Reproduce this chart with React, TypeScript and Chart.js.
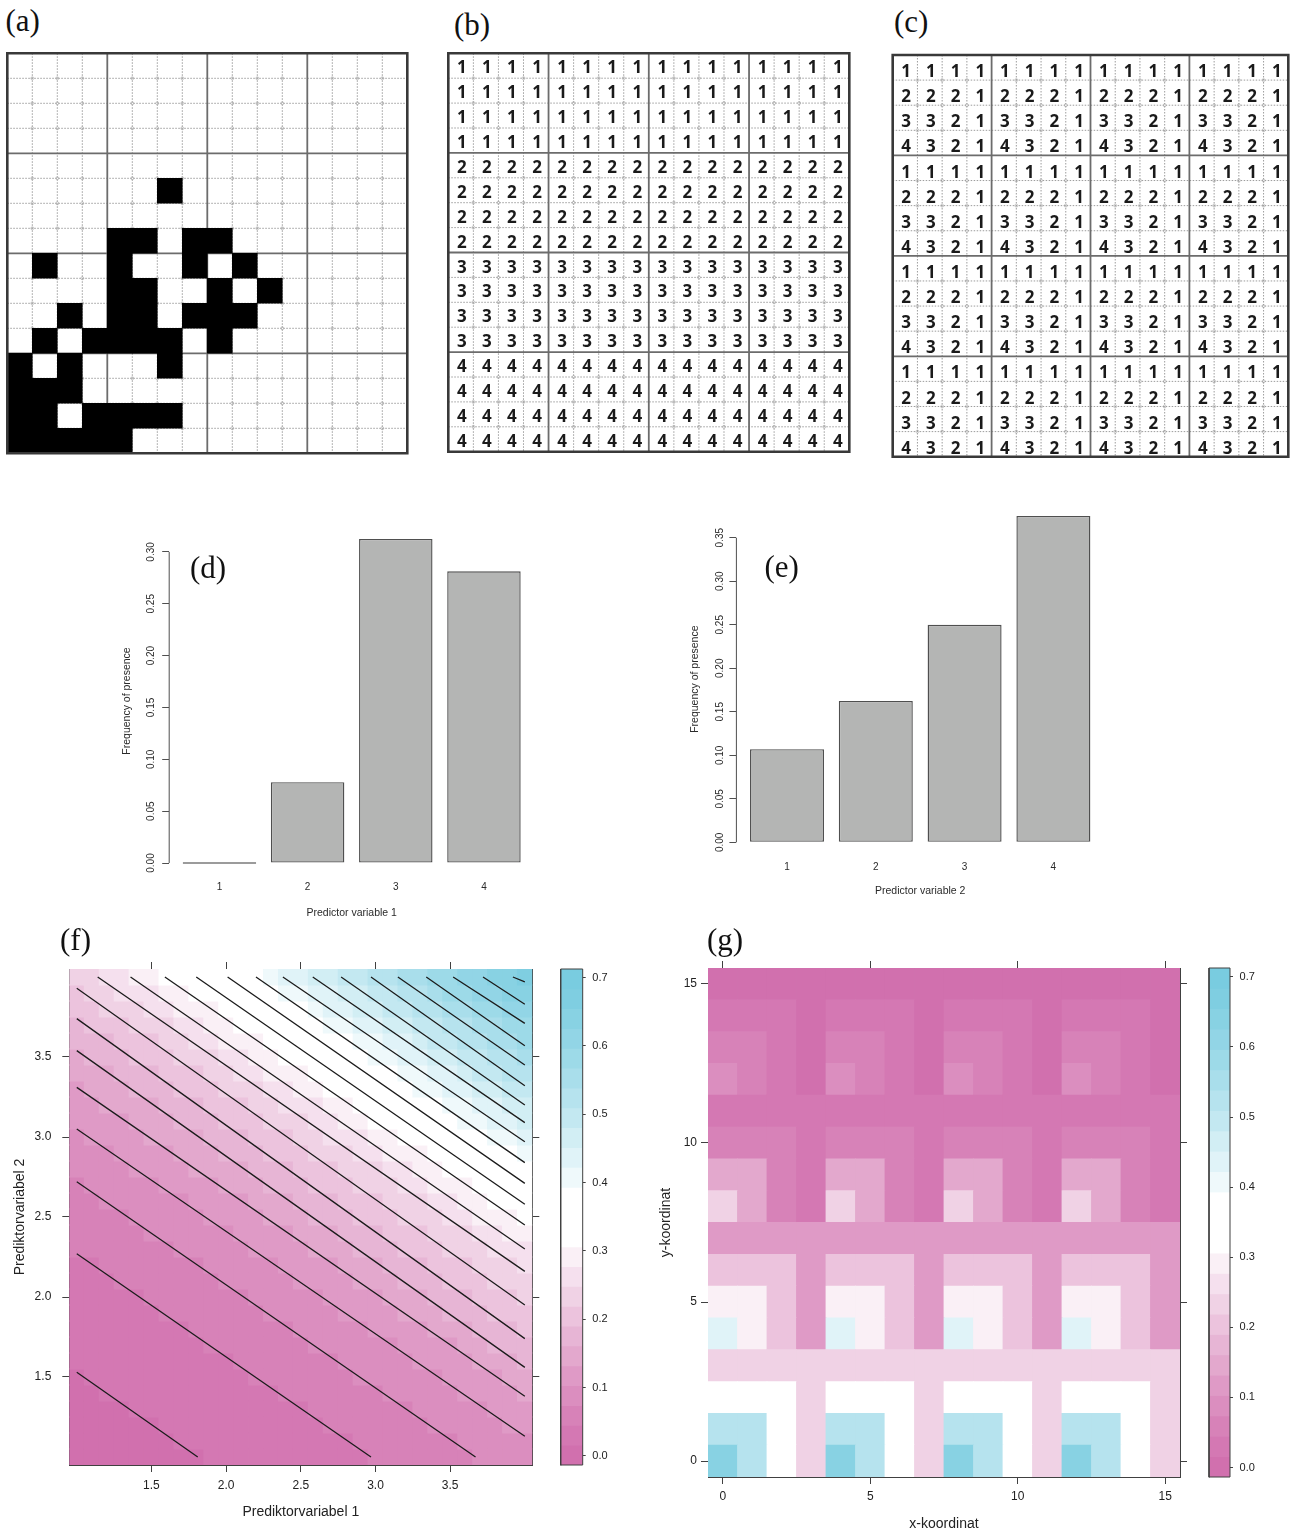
import React, { useEffect, useRef } from "react";
import { Chart, registerables } from "chart.js";

Chart.register(...registerables);

const SANS = "'Liberation Sans', Arial, sans-serif";
const SERIF = "'Liberation Serif', 'Times New Roman', serif";
Chart.defaults.font.family = SANS;

// ---------------- DATA ----------------
// (a) observed presence (1 = black cell), rows top -> bottom
const presenceGrid = [
  "0000000000000000",
  "0000000000000000",
  "0000000000000000",
  "0000000000000000",
  "0000000000000000",
  "0000001000000000",
  "0000000000000000",
  "0000110110000000",
  "0100100101000000",
  "0000110010100000",
  "0010110111000000",
  "0101111010000000",
  "1010001000000000",
  "1110000000000000",
  "1101111000000000",
  "1111100000000000",
];

// (b) predictor variable 1
const predictor1Grid = [
  "1111111111111111", "1111111111111111", "1111111111111111", "1111111111111111",
  "2222222222222222", "2222222222222222", "2222222222222222", "2222222222222222",
  "3333333333333333", "3333333333333333", "3333333333333333", "3333333333333333",
  "4444444444444444", "4444444444444444", "4444444444444444", "4444444444444444",
];

// (c) predictor variable 2
const predictor2Grid = [
  "1111111111111111", "2221222122212221", "3321332133213321", "4321432143214321",
  "1111111111111111", "2221222122212221", "3321332133213321", "4321432143214321",
  "1111111111111111", "2221222122212221", "3321332133213321", "4321432143214321",
  "1111111111111111", "2221222122212221", "3321332133213321", "4321432143214321",
];

// (d), (e) frequency of presence
const barCategories = ["1", "2", "3", "4"];
const freqByPredictor1 = [0, 0.078, 0.3125, 0.2813];
const freqByPredictor2 = [0.107, 0.1625, 0.25, 0.375];
const yTicksD = [0, 0.05, 0.1, 0.15, 0.2, 0.25, 0.3];
const yTicksE = [0, 0.05, 0.1, 0.15, 0.2, 0.25, 0.3, 0.35];

// (f) fitted surface: grid levels and contour lines [x1 start, x2 start, x1 end, x2 end]
const surfaceLevels = [1.0, 1.1, 1.2, 1.3, 1.4, 1.5, 1.6, 1.7, 1.8, 1.9, 2.0, 2.1, 2.2, 2.3, 2.4, 2.5,
  2.6, 2.7, 2.8, 2.9, 3.0, 3.1, 3.2, 3.3, 3.4, 3.5, 3.6, 3.7, 3.8, 3.9, 4.0];
const surfaceTicks = [1.5, 2.0, 2.5, 3.0, 3.5];
const contourLines = [
  [1.81, 1.0, 1.0, 1.53],
  [2.97, 1.0, 1.0, 2.27],
  [3.67, 1.0, 1.0, 2.72],
  [4.0, 1.13, 1.0, 3.05],
  [4.0, 1.38, 1.0, 3.31],
  [4.0, 1.56, 1.0, 3.54],
  [4.0, 1.74, 1.0, 3.74],
  [4.0, 1.95, 1.0, 3.93],
  [4.0, 2.16, 1.14, 4.0],
  [4.0, 2.3, 1.36, 4.0],
  [4.0, 2.45, 1.59, 4.0],
  [4.0, 2.58, 1.8, 4.0],
  [4.0, 2.71, 2.01, 4.0],
  [4.0, 2.84, 2.2, 4.0],
  [4.0, 2.97, 2.38, 4.0],
  [4.0, 3.09, 2.58, 4.0],
  [4.0, 3.2, 2.77, 4.0],
  [4.0, 3.32, 2.97, 4.0],
  [4.0, 3.45, 3.15, 4.0],
  [4.0, 3.57, 3.34, 4.0],
  [4.0, 3.71, 3.52, 4.0],
  [4.0, 3.83, 3.72, 4.0],
  [4.0, 3.97, 3.92, 4.0],
];

// colour key
const keyRange = [-0.0135, 0.7127];
const keyBandCount = 25;
const keyTicks = [0, 0.1, 0.2, 0.3, 0.4, 0.5, 0.6, 0.7];

// (g) predicted presence by (predictor 1 level, predictor 2 level)
const coordTicks = [0, 5, 10, 15];
const presenceModel = [
  [0.0, 0.03, 0.06, 0.095],
  [0.035, 0.065, 0.14, 0.235],
  [0.12, 0.2, 0.3, 0.44],
  [0.24, 0.35, 0.525, 0.65],
];

// ---------------- helpers ----------------
const PINK = [209, 112, 174];
const CYAN = [121, 204, 224];
function bandColour(i: number) {
  let c: number[];
  if (i <= 11) {
    const x = (11 - i) / 11;
    const f = 1 - Math.pow(1 - x, 1.2);
    c = PINK.map((p) => 255 + (p - 255) * f);
  } else if (i <= 13) {
    c = [255, 255, 255];
  } else {
    const x = (i - 13) / 11;
    const f = 1 - Math.pow(1 - x, 1.3);
    c = CYAN.map((p) => 255 + (p - 255) * f);
  }
  return `rgb(${c.map((v) => Math.round(v)).join(",")})`;
}
const bandWidth = (keyRange[1] - keyRange[0]) / keyBandCount;
function bandOfValue(v: number) {
  return Math.max(0, Math.min(keyBandCount - 1, Math.floor((v - keyRange[0]) / bandWidth)));
}
function bandFromContours(x: number, y: number) {
  let n = 0;
  for (const [ax, ay, bx, by] of contourLines) {
    let nx = by - ay;
    let ny = -(bx - ax);
    if (nx + ny < 0) { nx = -nx; ny = -ny; }
    if (nx * (x - ax) + ny * (y - ay) > 0) n++;
  }
  return n;
}

type Rect = [number, number, number, number];

function base(extra: any) {
  return {
    animation: false,
    responsive: false,
    maintainAspectRatio: false,
    devicePixelRatio: 1,
    events: [],
    plugins: { legend: { display: false }, tooltip: { enabled: false } },
    ...extra,
  };
}

function ChartBox({ rect, build }: { rect: Rect; build: () => any }) {
  const ref = useRef<HTMLCanvasElement | null>(null);
  useEffect(() => {
    if (!ref.current) return;
    const chart = new Chart(ref.current, build());
    return () => chart.destroy();
  }, []);
  const [x, y, w, h] = rect;
  return (
    <canvas ref={ref} width={w} height={h}
      style={{ position: "absolute", left: x, top: y, width: w, height: h }} />
  );
}

// ---------- grid panels (a)(b)(c) ----------
function gridChart(rect: Rect, area: Rect, black: string[] | null, digits: string[] | null, digitDy: number) {
  const [cx, cy, cw, ch] = rect;
  const [L, T, R, B] = area;
  const N = 16;
  const dotted: any[] = [];
  const solid: any[] = [];
  const rings: any[] = [];
  for (let i = 1; i < N; i++) {
    const target = i % 4 === 0 ? solid : dotted;
    target.push({ x: i, y: 0 }, { x: i, y: N }, { x: i, y: null });
    target.push({ x: 0, y: i }, { x: N, y: i }, { x: N, y: null });
    if (i % 4 !== 0) for (let j = 1; j < N; j++) if (j % 4 !== 0) rings.push({ x: i, y: j });
  }
  const cells: any[] = [];
  (black || []).forEach((row, r) => {
    for (let c = 0; c < row.length; c++) if (row[c] === "1") cells.push({ x: c + 0.5, y: [r, r + 1] });
  });
  const textPlugin = {
    id: "cellText",
    afterDatasetsDraw(chart: any) {
      if (!digits) return;
      const ctx = chart.ctx;
      const xs = chart.scales.x;
      const ys = chart.scales.y;
      ctx.save();
      ctx.font = "700 17px 'Open Sans', sans-serif";
      ctx.fillStyle = "#1a1a1a";
      ctx.textAlign = "center";
      ctx.textBaseline = "alphabetic";
      digits.forEach((row, r) => {
        for (let c = 0; c < row.length; c++) {
          ctx.fillText(row[c], xs.getPixelForValue(c + 0.5) + 1, ys.getPixelForValue(r + 0.5) + 6.1 + digitDy);
        }
      });
      ctx.restore();
    },
  };
  return {
    type: "bar",
    data: {
      datasets: [
        { type: "line", data: [{ x: 0, y: 0 }, { x: N, y: 0 }, { x: N, y: N }, { x: 0, y: N }, { x: 0, y: 0 }],
          borderColor: "#393939", borderWidth: 2.6, pointRadius: 0, clip: false, order: 0,
          borderJoinStyle: "miter", borderCapStyle: "square" },
        { type: "bar", data: cells, backgroundColor: "#000", borderWidth: 0, barPercentage: 1,
          categoryPercentage: 1, grouped: false, inflateAmount: 0.3, order: 1 },
        { type: "line", data: solid, borderColor: "#6c6c6c", borderWidth: 1.8, pointRadius: 0, spanGaps: false, order: 2 },
        { type: "line", data: dotted, borderColor: "#9c9c9c", borderWidth: 1, borderDash: [1.5, 1.5],
          pointRadius: 0, spanGaps: false, order: 3 },
        { type: "scatter", data: rings, pointRadius: 1.5, pointBorderWidth: 0.7, pointBorderColor: "#b4b4b4",
          pointBackgroundColor: "rgba(255,255,255,0)", order: 3 },
      ],
    },
    options: base({
      layout: { padding: { left: L - cx, top: T - cy, right: cx + cw - R, bottom: cy + ch - B } },
      scales: {
        x: { type: "linear", min: 0, max: N, display: false, offset: false, ticks: { stepSize: 1 } },
        y: { type: "linear", min: 0, max: N, reverse: true, display: false, ticks: { stepSize: 1 } },
      },
    }),
    plugins: [textPlugin],
  };
}

// ---------- bar panels (d)(e) ----------
function barChart(rect: Rect, area: Rect, values: number[], ticks: number[], yMax: number, xTitle: string,
  p: { yTitleX: number; yLabelX: number; xLabelY: number; xTitleY: number }) {
  const [cx, cy, cw, ch] = rect;
  const [L, T, R, B] = area;
  const centres = values.map((_, i) => 0.7 + 1.2 * i);
  const rotLabels = {
    id: "rotY",
    afterDraw(chart: any) {
      const ctx = chart.ctx;
      const ys = chart.scales.y;
      ctx.save();
      ctx.font = `10px ${SANS}`;
      ctx.fillStyle = "#2a2a2a";
      ctx.textAlign = "center";
      ctx.textBaseline = "middle";
      for (const v of ticks) {
        ctx.save();
        ctx.translate(p.yLabelX - cx, ys.getPixelForValue(v));
        ctx.rotate(-Math.PI / 2);
        ctx.fillText(v.toFixed(2), 0, 0);
        ctx.restore();
      }
      ctx.restore();
    },
  };
  return {
    type: "bar",
    data: {
      datasets: [
        { type: "line", data: [{ x: 0.016, y: 0 }, { x: 0.016, y: ticks[ticks.length - 1] }],
          borderColor: "#4f4f4f", borderWidth: 1, pointRadius: 0, clip: false, order: 0 },
        { type: "bar", data: values.map((v, i) => ({ x: centres[i], y: v })), backgroundColor: "#b4b5b4",
          borderColor: "#4f4f4f", borderWidth: 1.4, borderSkipped: false, barPercentage: 1 / 1.2,
          categoryPercentage: 1, minBarLength: 1.6, inflateAmount: 0, order: 1 },
      ],
    },
    options: base({
      layout: { padding: { left: 0, top: T - cy, right: cx + cw - R, bottom: 0 } },
      scales: {
        x: {
          type: "linear", min: 0.016, max: 4.984, offset: false,
          afterBuildTicks: (s: any) => { s.ticks = centres.map((v) => ({ value: v })); },
          ticks: { callback: (_v: any, i: number) => barCategories[i], font: { size: 10 }, color: "#2a2a2a",
            padding: p.xLabelY - B - 6, autoSkip: false, maxRotation: 0 },
          grid: { display: false, drawTicks: false, offset: false },
          border: { display: false },
          title: { display: true, text: xTitle, font: { size: 10.5 }, color: "#2a2a2a",
            padding: { top: 0, bottom: cy + ch - p.xTitleY - 6.3 } },
          afterFit: (s: any) => { s.height = cy + ch - B; },
        },
        y: {
          type: "linear", min: -yMax * 0.04, max: yMax * 1.04,
          afterBuildTicks: (s: any) => { s.ticks = ticks.map((v) => ({ value: v })); },
          ticks: { display: false },
          grid: { display: true, drawOnChartArea: false, drawTicks: true, tickLength: 7, tickColor: "#4f4f4f", tickWidth: 1 },
          border: { display: false },
          title: { display: true, text: "Frequency of presence", font: { size: 10.5 }, color: "#2a2a2a",
            padding: { top: p.yTitleX - cx - 6.3, bottom: 0 } },
          afterFit: (s: any) => { s.width = L - cx; },
        },
      },
    }),
    plugins: [rotLabels],
  };
}

// ---------- lattice panels (f)(g) ----------
const AX = "#404040";
function latticeScales(rect: Rect, area: Rect, min: number, max: number, ticks: number[], fmt: (v: number) => string,
  xTitle: string, yTitle: string, p: { xTitleY: number; yTitleX: number; xPad: number; yPad: number }) {
  const [cx, cy, cw, ch] = rect;
  const [L, T, R, B] = area;
  const grid = { display: true, drawOnChartArea: false, drawTicks: true, tickLength: 7, tickColor: AX, tickWidth: 1, offset: false };
  const border = { display: true, color: AX, width: 1 };
  const setTicks = (s: any) => { s.ticks = ticks.map((v) => ({ value: v })); };
  const tickFont = { size: 12 };
  const titleFont = { size: 14 };
  return {
    x: {
      type: "linear", position: "bottom", min, max, offset: false, afterBuildTicks: setTicks, grid, border,
      ticks: { callback: (v: number) => fmt(v), font: tickFont, color: "#222", padding: p.xPad, maxRotation: 0, autoSkip: false },
      title: { display: true, text: xTitle, font: titleFont, color: "#222", padding: { top: 0, bottom: cy + ch - p.xTitleY - 8.4 } },
      afterFit: (s: any) => { s.height = cy + ch - B; },
    },
    y: {
      type: "linear", position: "left", min, max, afterBuildTicks: setTicks, grid, border,
      ticks: { callback: (v: number) => fmt(v), font: tickFont, color: "#222", padding: p.yPad, autoSkip: false },
      title: { display: true, text: yTitle, font: titleFont, color: "#222", padding: { top: p.yTitleX - cx - 8.4, bottom: 0 } },
      afterFit: (s: any) => { s.width = L - cx; },
    },
    x2: {
      type: "linear", axis: "x", position: "top", min, max, offset: false, afterBuildTicks: setTicks, grid, border,
      ticks: { display: false }, afterFit: (s: any) => { s.height = T - cy; },
    },
    y2: {
      type: "linear", axis: "y", position: "right", min, max, afterBuildTicks: setTicks, grid, border,
      ticks: { display: false }, afterFit: (s: any) => { s.width = cx + cw - R; },
    },
  };
}

function surfaceChart(rect: Rect, area: Rect) {
  const cells: any[] = [];
  const colours: string[] = [];
  const half = (surfaceLevels[1] - surfaceLevels[0]) / 2;
  for (const gx of surfaceLevels) {
    for (const gy of surfaceLevels) {
      cells.push({ x: gx, y: [gy - half, gy + half] });
      colours.push(bandColour(bandFromContours(gx, gy)));
    }
  }
  const lines: any[] = [];
  for (const [ax, ay, bx, by] of contourLines) lines.push({ x: ax, y: ay }, { x: bx, y: by }, { x: bx, y: null });
  const min = surfaceLevels[0] - half;
  const max = surfaceLevels[surfaceLevels.length - 1] + half;
  return {
    type: "bar",
    data: {
      datasets: [
        { type: "line", data: lines, borderColor: "#1c1c1c", borderWidth: 1.3, pointRadius: 0, spanGaps: false, order: 0 },
        { type: "bar", data: cells, backgroundColor: colours, borderWidth: 0, barPercentage: 1, categoryPercentage: 1,
          grouped: false, inflateAmount: 0.4, order: 1 },
      ],
    },
    options: base({
      scales: latticeScales(rect, area, min, max, surfaceTicks, (v) => v.toFixed(1),
        "Prediktorvariabel 1", "Prediktorvariabel 2", { xTitleY: 1512, yTitleX: 20, xPad: 6.8, yPad: 11 }),
    }),
  };
}

function mapChart(rect: Rect, area: Rect) {
  const cells: any[] = [];
  const colours: string[] = [];
  for (let r = 0; r < predictor1Grid.length; r++) {
    for (let c = 0; c < predictor1Grid[r].length; c++) {
      const p1 = Number(predictor1Grid[r][c]);
      const p2 = Number(predictor2Grid[r][c]);
      const yv = predictor1Grid.length - 1 - r;
      cells.push({ x: c, y: [yv - 0.5, yv + 0.5] });
      colours.push(bandColour(bandOfValue(presenceModel[p1 - 1][p2 - 1])));
    }
  }
  return {
    type: "bar",
    data: {
      datasets: [
        { type: "bar", data: cells, backgroundColor: colours, borderWidth: 0, barPercentage: 1, categoryPercentage: 1,
          grouped: false, inflateAmount: 0.4 },
      ],
    },
    options: base({
      scales: latticeScales(rect, area, -0.5, 15.5, coordTicks, (v) => String(v),
        "x-koordinat", "y-koordinat", { xTitleY: 1524, yTitleX: 666, xPad: 5.8, yPad: 4 }),
    }),
  };
}

function keyChart(rect: Rect, area: Rect) {
  const [cx, cy, cw, ch] = rect;
  const [L, T, R, B] = area;
  const bands: any[] = [];
  const colours: string[] = [];
  for (let i = 0; i < keyBandCount; i++) {
    bands.push({ x: 0.5, y: [keyRange[0] + i * bandWidth, keyRange[0] + (i + 1) * bandWidth] });
    colours.push(bandColour(i));
  }
  return {
    type: "bar",
    data: {
      datasets: [
        { type: "line", data: [{ x: 0, y: keyRange[0] }, { x: 1, y: keyRange[0] }, { x: 1, y: keyRange[1] },
          { x: 0, y: keyRange[1] }, { x: 0, y: keyRange[0] }], borderColor: AX, borderWidth: 1, pointRadius: 0,
          clip: false, order: 0, borderJoinStyle: "miter", borderCapStyle: "square" },
        { type: "bar", data: bands, backgroundColor: colours, borderWidth: 0, barPercentage: 1, categoryPercentage: 1,
          grouped: false, inflateAmount: 0.4, order: 1 },
      ],
    },
    options: base({
      layout: { padding: { left: L - cx, top: T - cy, right: 0, bottom: cy + ch - B } },
      scales: {
        x: { type: "linear", min: 0, max: 1, display: false, offset: false,
          afterBuildTicks: (s: any) => { s.ticks = [{ value: 0 }, { value: 1 }]; } },
        y: {
          type: "linear", position: "right", min: keyRange[0], max: keyRange[1],
          afterBuildTicks: (s: any) => { s.ticks = keyTicks.map((v) => ({ value: v })); },
          grid: { display: true, drawOnChartArea: false, drawTicks: true, tickLength: 3, tickColor: AX },
          border: { display: false },
          ticks: { callback: (v: number) => v.toFixed(1), font: { size: 11 }, color: "#222", padding: 6.6, autoSkip: false },
          afterFit: (s: any) => { s.width = cx + cw - R; },
        },
      },
    }),
  };
}

function PanelLabel({ text, left, top }: { text: string; left: number; top: number }) {
  return (
    <div style={{ position: "absolute", left, top, fontFamily: SERIF, fontSize: 31, lineHeight: "31px",
      color: "#111", whiteSpace: "nowrap" }}>{text}</div>
  );
}

export default function App() {
  return (
    <div style={{ position: "absolute", left: 0, top: 0, width: 1293, height: 1531, overflow: "hidden", background: "#fff" }}>
      <ChartBox rect={[0, 45, 420, 420]} build={() => gridChart([0, 45, 420, 420], [7.3, 53.3, 407.3, 453.3], presenceGrid, null, 0)} />
      <ChartBox rect={[440, 45, 420, 420]} build={() => gridChart([440, 45, 420, 420], [448.3, 53.3, 849.3, 451.7], null, predictor1Grid, 1.5)} />
      <ChartBox rect={[880, 45, 413, 420]} build={() => gridChart([880, 45, 413, 420], [892.7, 55, 1291, 456.7], null, predictor2Grid, 3.5)} />

      <ChartBox rect={[100, 500, 460, 430]} build={() => barChart([100, 500, 460, 430], [169.2, 526, 534.2, 876],
        freqByPredictor1, yTicksD, 0.3125, "Predictor variable 1", { yTitleX: 126.7, yLabelX: 151.7, xLabelY: 887.7, xTitleY: 912.7 })} />
      <ChartBox rect={[670, 490, 460, 420]} build={() => barChart([670, 490, 460, 420], [736.4, 502.9, 1104, 855.4],
        freqByPredictor2, yTicksE, 0.375, "Predictor variable 2", { yTitleX: 695, yLabelX: 720, xLabelY: 867.7, xTitleY: 890.7 })} />

      <ChartBox rect={[0, 938, 548, 593]} build={() => surfaceChart([0, 938, 548, 593], [69.3, 969, 532.3, 1465])} />
      <ChartBox rect={[548, 938, 100, 593]} build={() => keyChart([548, 938, 100, 593], [560.7, 969, 582.7, 1465])} />
      <ChartBox rect={[640, 938, 560, 602]} build={() => mapChart([640, 938, 560, 602], [708, 968, 1180, 1477])} />
      <ChartBox rect={[1200, 938, 93, 602]} build={() => keyChart([1200, 938, 93, 602], [1209, 968, 1230, 1477])} />

      <PanelLabel text="(a)" left={5.5} top={5.4} />
      <PanelLabel text="(b)" left={454} top={9.4} />
      <PanelLabel text="(c)" left={894} top={6.4} />
      <PanelLabel text="(d)" left={190} top={551.7} />
      <PanelLabel text="(e)" left={764.5} top={551} />
      <PanelLabel text="(f)" left={60} top={924} />
      <PanelLabel text="(g)" left={707} top={924} />
    </div>
  );
}
